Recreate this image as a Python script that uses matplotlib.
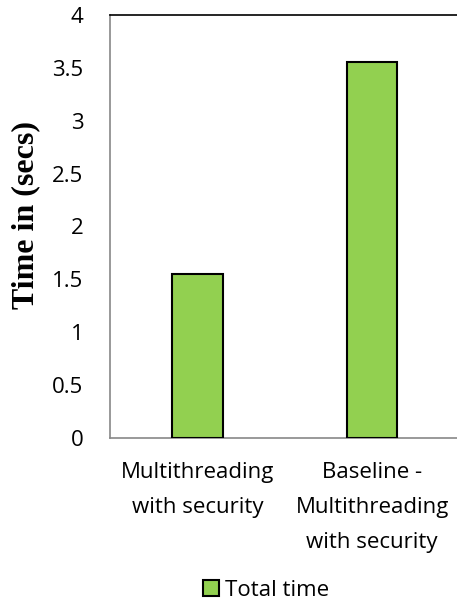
import matplotlib.pyplot as plt
import numpy as np

categories = ["Multithreading\nwith security", "Baseline -\nMultithreading\nwith security"]
total_time = [1.55, 3.56]
yticks = [0, 0.5, 1, 1.5, 2, 2.5, 3, 3.5, 4]

fig = plt.figure(figsize=(4.57, 6.09), dpi=100)
ax = fig.add_axes([0.2407, 0.2808, 0.7648, 0.6946])

x = np.arange(len(categories))
ax.bar(x, total_time, width=0.29, color="#92D050", edgecolor="black",
       linewidth=1.5, label="Total time", zorder=3)

ax.set_xlim(-0.5, 1.5)
ax.set_ylim(0, 4)
ax.set_yticks(yticks)
ax.set_yticklabels([f"{t:g}" for t in yticks], fontfamily="Open Sans", fontsize=16)
ax.set_xticks(x)
ax.set_xticklabels(categories, fontfamily="Open Sans", fontsize=16, linespacing=1.9)
ax.tick_params(axis="y", length=0, pad=19)
ax.tick_params(axis="x", length=0, pad=17)

for s in ("left", "bottom"):
    ax.spines[s].set_color("#888888")
    ax.spines[s].set_linewidth(1.2)
ax.spines["top"].set_color("black")
ax.spines["top"].set_linewidth(1.2)
ax.spines["right"].set_visible(False)

ax.set_ylabel("Time in (secs)", fontfamily="Liberation Serif", fontweight="bold",
              fontsize=23)
ax.yaxis.set_label_coords(-0.2, 0.528)

fig.legend(loc="center", bbox_to_anchor=(0.583, 0.031), frameon=False,
           prop={"family": "Open Sans", "size": 16},
           handlelength=0.7, handleheight=0.7, handletextpad=0.3)

fig.savefig("out.png", dpi=100)
